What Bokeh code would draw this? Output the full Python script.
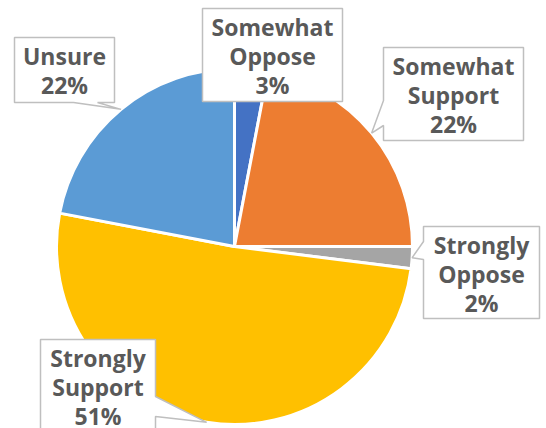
import math
from bokeh.plotting import figure
from bokeh.models import Range1d, ColumnDataSource
from bokeh.core.properties import value
from bokeh.embed import file_html
from bokeh.resources import INLINE

# ---- data ----
categories = ["Somewhat Oppose", "Somewhat Support", "Strongly Oppose", "Strongly Support", "Unsure"]
shares = [3, 22, 2, 51, 22]
pct_labels = ["3%", "22%", "2%", "51%", "22%"]

# ---- style / layout ----
colors = ["#4472C4", "#ED7D31", "#A5A5A5", "#FFC000", "#5B9BD5"]
PAGE_H = 428
CX, CY, R = 234, 246, 178  # page pixel coords
# callout boxes (left, top, right, bottom) in page pixels
boxes = [(202, 8, 342, 101), (383, 47, 523, 140), (423, 226, 539, 318),
         (40, 339, 155, 450), (14, 37, 114, 102)]
notches = [None, ("left", 100, 125), ("left", 241, 259), ("right", 396, 416), ("bottom", 73, 97)]


def fy(py):
    return PAGE_H - py


p = figure(width=546, height=428, output_backend="svg", toolbar_location=None,
           x_range=Range1d(0, 546), y_range=Range1d(0, 428),
           x_axis_location=None, y_axis_location=None, min_border=0)
p.grid.visible = False
p.outline_line_color = None
p.background_fill_color = "white"
p.border_fill_color = "white"

total = float(sum(shares))
starts, ends, mids = [], [], []
cum = 0.0
for s in shares:
    a0 = cum / total * 2 * math.pi
    cum += s
    a1 = cum / total * 2 * math.pi
    starts.append(math.pi / 2 - a1)
    ends.append(math.pi / 2 - a0)
    mids.append((a0 + a1) / 2)

src = ColumnDataSource(dict(start=starts, end=ends, color=colors, cat=categories))
p.wedge(x=CX, y=fy(CY), radius=R, start_angle="start", end_angle="end",
        fill_color="color", line_color="white", line_width=3, source=src)

xs, ys = [], []
tx, ty, tt = [], [], []
for i, (box, notch) in enumerate(zip(boxes, notches)):
    x0, y0, x1, y1 = box
    th = mids[i]
    tipx = CX + R * math.sin(th)
    tipy = CY - R * math.cos(th)
    pts = [(x0, y0), (x1, y0)]
    if notch and notch[0] == "right":
        pts += [(x1, notch[1]), (tipx, tipy), (x1, notch[2])]
    pts.append((x1, y1))
    if notch and notch[0] == "bottom":
        pts += [(notch[2], y1), (tipx, tipy), (notch[1], y1)]
    pts.append((x0, y1))
    if notch and notch[0] == "left":
        pts += [(x0, notch[2]), (tipx, tipy), (x0, notch[1])]
    xs.append([q[0] for q in pts])
    ys.append([fy(q[1]) for q in pts])
    lines = categories[i].split(" ") + [pct_labels[i]]
    cx = (x0 + x1) / 2
    for j, ln in enumerate(lines):
        tx.append(cx)
        ty.append(fy(y0 + 18 + 29 * j))
        tt.append(ln)

p.patches(xs=xs, ys=ys, fill_color="white", line_color="#BFBFBF", line_width=1.5)
p.text(x=tx, y=ty, text=tt, text_font=value("Open Sans"), text_font_style="bold",
       text_font_size="23px", text_color="#595959", text_align="center",
       text_baseline="alphabetic")

open("out.html", "w").write(file_html(p, INLINE))
